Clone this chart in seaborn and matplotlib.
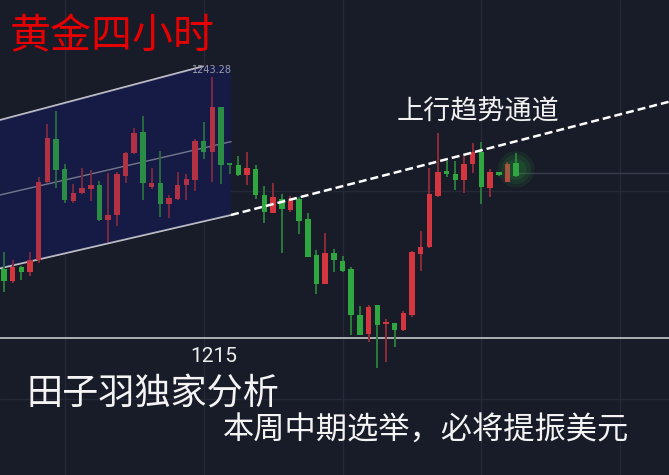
import numpy as np
import pandas as pd
import matplotlib
matplotlib.use("Agg")
import matplotlib.pyplot as plt
from matplotlib.patches import Polygon
import seaborn as sns

# ---- 4-hour gold candles (price, USD/oz) ----
opens = [1222.44, 1221.20, 1222.65, 1222.14, 1223.44, 1231.88, 1236.57, 1233.26, 1229.80, 1230.66,
         1231.09, 1231.53, 1227.77, 1228.31, 1232.53, 1234.99, 1237.33, 1231.38, 1231.81, 1229.50,
         1230.01, 1231.53, 1232.10, 1236.29, 1235.13, 1239.97, 1233.89, 1233.67, 1232.61, 1233.32,
         1230.51, 1228.56, 1230.08, 1228.85, 1230.01, 1227.85, 1224.02, 1220.84, 1224.23, 1223.37,
         1222.44, 1217.52, 1215.43, 1218.54, 1216.52, 1216.59, 1215.87, 1217.49, 1224.09, 1224.82,
         1230.34, 1233.11, 1232.78, 1232.07, 1233.80, 1235.10, 1231.23, 1232.93, 1231.92, 1233.97]
highs = [1224.34, 1223.44, 1222.79, 1224.34, 1232.46, 1238.16, 1239.60, 1233.83, 1231.67, 1233.40,
         1233.18, 1231.96, 1232.83, 1233.00, 1235.16, 1237.70, 1239.03, 1233.43, 1235.24, 1230.48,
         1232.97, 1232.75, 1236.54, 1238.38, 1243.28, 1240.05, 1233.94, 1234.70, 1235.13, 1233.69,
         1231.45, 1231.74, 1230.59, 1230.37, 1230.23, 1228.56, 1224.52, 1226.33, 1224.66, 1223.87,
         1222.72, 1218.46, 1218.54, 1218.60, 1217.09, 1216.65, 1217.89, 1224.44, 1226.58, 1233.43,
         1237.15, 1234.19, 1234.19, 1234.70, 1236.14, 1236.21, 1233.26, 1233.00, 1234.05, 1234.99]
lows = [1220.01, 1220.95, 1221.28, 1221.71, 1223.15, 1231.74, 1231.20, 1229.58, 1229.64, 1230.55,
        1229.86, 1227.70, 1225.42, 1227.15, 1231.74, 1234.91, 1229.94, 1231.09, 1228.13, 1227.96,
        1229.90, 1229.94, 1230.94, 1234.41, 1231.92, 1231.67, 1232.80, 1232.50, 1231.59, 1230.01,
        1227.48, 1228.50, 1224.17, 1228.67, 1226.26, 1223.73, 1219.76, 1220.80, 1222.18, 1222.18,
        1215.32, 1215.30, 1214.60, 1211.79, 1212.40, 1214.06, 1215.80, 1217.31, 1222.28, 1224.75,
        1230.30, 1232.46, 1231.02, 1230.73, 1232.89, 1229.50, 1230.29, 1232.58, 1231.88, 1232.39]
closes = [1221.20, 1222.65, 1222.14, 1223.44, 1231.92, 1236.68, 1233.18, 1229.94, 1230.73, 1231.20,
          1231.53, 1227.77, 1228.28, 1232.72, 1235.06, 1237.22, 1231.74, 1231.81, 1229.50, 1230.12,
          1231.59, 1232.18, 1236.29, 1235.13, 1239.97, 1233.69, 1233.69, 1232.61, 1233.43, 1230.44,
          1228.64, 1230.23, 1228.93, 1230.01, 1227.63, 1223.80, 1220.84, 1224.23, 1223.44, 1222.28,
          1217.46, 1215.36, 1218.39, 1216.44, 1216.66, 1215.87, 1217.67, 1224.28, 1224.88, 1230.55,
          1233.00, 1232.72, 1232.07, 1233.80, 1235.13, 1231.31, 1232.93, 1232.64, 1233.86, 1232.53]

# ---- channel and trend line anchors (candle index, price) ----
chan_x = [-0.46, 26.15]
chan_upper = [1238.59, 1245.20]
chan_upper_end_x = 22.93
chan_mid = [1230.48, 1236.25]
chan_lower = [1222.54, 1228.31]
trend_x = [26.15, 76.61]
trend_y = [1228.31, 1240.57]

support_level = 1215.0
peak_label = "1243.28"
last_price = 1232.86
grid_x = [7, 23, 39, 55, 71]
grid_y = [1230.9, 1208.4]

title_text = "黄金四小时"
channel_text = "上行趋势通道"
author_text = "田子羽独家分析"
note_text = "本周中期选举，必将提振美元"

BG = "#181b28"
UP_BODY, UP_WICK = "#d4363f", "#8e2a38"
DN_BODY, DN_WICK = "#2fa640", "#2a7a3a"

sns.set_theme(style="dark", rc={"axes.facecolor": BG, "figure.facecolor": BG})
plt.rcParams["font.family"] = ["Noto Sans CJK SC", "DejaVu Sans"]

W, H = 669, 475
fig = plt.figure(figsize=(W / 100, H / 100), dpi=100)
ax = fig.add_axes([0, 0, 1, 1])
ax.set_facecolor(BG)
ax.set_xlim(-0.461, 76.61)
ax.set_ylim(1200.17, 1251.58)
ax.set_axis_off()

# faint grid
for gx in grid_x:
    ax.axvline(gx, color="#242837", lw=1.0, zorder=0)
for gy in grid_y:
    ax.axhline(gy, color="#242837", lw=1.0, zorder=0)

# shaded channel body
slope_u = (chan_upper[1] - chan_upper[0]) / (chan_x[1] - chan_x[0])
u_end = chan_upper[0] + slope_u * (chan_upper_end_x - chan_x[0])
poly = [(chan_x[0], chan_upper[0]), (chan_upper_end_x, u_end), (chan_x[1], u_end),
        (chan_x[1], chan_lower[1]), (chan_x[0], chan_lower[0])]
ax.add_patch(Polygon(poly, closed=True, facecolor="#161a40", edgecolor="none", zorder=1))

# channel lines
lines = pd.DataFrame({
    "x": [chan_x[0], chan_upper_end_x, chan_x[0], chan_x[1], chan_x[0], chan_x[1]],
    "y": [chan_upper[0], u_end, chan_mid[0], chan_mid[1], chan_lower[0], chan_lower[1]],
    "line": ["upper", "upper", "mid", "mid", "lower", "lower"],
})
sns.lineplot(data=lines[lines.line != "mid"], x="x", y="y", units="line", estimator=None,
             color="#c9c9cf", lw=1.3, ax=ax, zorder=2)
sns.lineplot(data=lines[lines.line == "mid"], x="x", y="y", estimator=None,
             color="#8a8b98", lw=1.0, ax=ax, zorder=2)

# support level
ax.axhline(support_level, color="#c8c8c8", lw=1.2, zorder=2)
ax.plot([59.3, 76.61], [last_price, last_price], color="#3a3e4c", lw=1.0, zorder=2)

# candles
idx = np.arange(len(opens))
o, h, l, c = map(np.array, (opens, highs, lows, closes))
up = c >= o
wick_col = np.where(up, UP_WICK, DN_WICK)
body_col = np.where(up, UP_BODY, DN_BODY)
ax.vlines(idx, l, h, colors=wick_col, lw=1.4, zorder=3)
bottom = np.minimum(o, c)
height = np.maximum(np.abs(c - o), 0.16)
ax.bar(idx, height, bottom=bottom, width=0.63, color=body_col, edgecolor="none", zorder=4)

# tint the candles inside the channel
ax.add_patch(Polygon(poly, closed=True, facecolor="#1a2060", edgecolor="none", alpha=0.18, zorder=5))

# glow on the latest candle
for s, a in [(700, 0.10), (450, 0.12), (220, 0.15)]:
    ax.scatter([idx[-1]], [(o[-1] + c[-1]) / 2], s=s, color="#2fa640", alpha=a,
               edgecolors="none", zorder=5)

# dashed up-trend line
trend = pd.DataFrame({"x": trend_x, "y": trend_y})
sns.lineplot(data=trend, x="x", y="y", color="white", lw=1.8, ax=ax, zorder=6,
             linestyle=(0, (3.2, 1.6)))

ax.text(24.0, highs[24] + 0.7, peak_label, color="#9b9ca6", fontsize=7,
        ha="center", va="center", family=["DejaVu Sans"], zorder=7)


def ftext(px, py, s, **kw):
    fig.text(px / W, 1 - py / H, s, **kw)


ftext(10, 37, title_text, color="#e60000", fontsize=29.5, ha="left", va="center")
ftext(397, 112, channel_text, color="#f2f2f2", fontsize=19.5, ha="left", va="center")
ftext(214, 356, "1215", color="#eeeeee", fontsize=15, ha="center", va="center",
      family=["Roboto", "DejaVu Sans"])
ftext(27, 395, author_text, color="#f4f4f4", fontsize=26, ha="left", va="center")
ftext(223, 431, note_text, color="#f4f4f4", fontsize=22.5, ha="left", va="center")

fig.savefig("out.png", dpi=100, facecolor=BG)
